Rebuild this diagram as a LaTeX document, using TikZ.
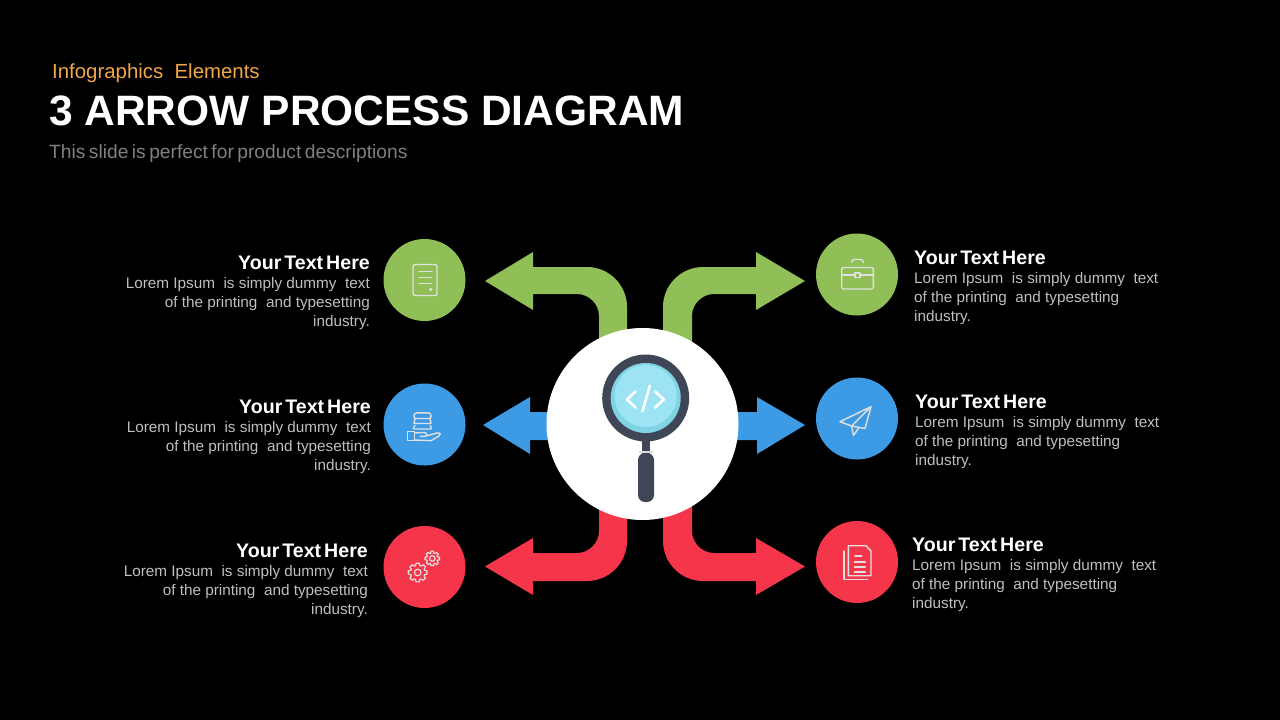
\documentclass[tikz,border=0pt]{standalone}
\usepackage{fontspec}
\setmainfont{Liberation Sans}
\definecolor{cgreen}{HTML}{8FBF56}
\definecolor{cblue}{HTML}{3D9BE6}
\definecolor{cred}{HTML}{F5364A}
\definecolor{corange}{HTML}{F0A64A}
\definecolor{cslate}{HTML}{3F4757}
\definecolor{clens}{HTML}{7FD3E3}
\definecolor{clenslight}{HTML}{9CE4F4}
\newcommand{\tightspace}[1]{\spaceskip #1\relax}
\tikzset{
  x=1pt,y=-1pt,
  badge/.style={circle,minimum size=82pt,inner sep=0pt,draw=none},
  headtext/.style={inner sep=0pt,text=white,font=\bfseries\fontsize{19.6}{24}\selectfont},
  bodyleft/.style={inner sep=0pt,text=black!25!white,align=right,anchor=north east,font=\fontsize{15.3}{19}\selectfont},
  bodyright/.style={inner sep=0pt,text=black!25!white,align=left,anchor=north west,font=\fontsize{15.3}{19}\selectfont},
  icon/.style={draw=white!88!black,line width=1.4pt,line join=round,line cap=round,fill=none},
}
\newcommand{\gear}[5]{% cx cy outer root hole
  \draw[icon,line width=1.2pt]
    \foreach \k [count=\i from 0] in {0,45,...,315}{
      {\ifnum\i=0 ({#1+#4*cos(\k-17)},{#2+#4*sin(\k-17)})\else -- ({#1+#4*cos(\k-17)},{#2+#4*sin(\k-17)})\fi}
      -- ({#1+#3*cos(\k-10)},{#2+#3*sin(\k-10)})
      -- ({#1+#3*cos(\k+10)},{#2+#3*sin(\k+10)})
      -- ({#1+#4*cos(\k+17)},{#2+#4*sin(\k+17)})
    } -- cycle;
  \draw[icon,line width=1.2pt] (#1,#2) circle[radius=#5];
}
\newcommand{\lorem}{Lorem Ipsum\ \ is simply dummy\ \ text\\of the printing\ \ and typesetting\\industry.}
\newcommand{\yourtext}{\tightspace{3pt}Your Text Here}
\begin{document}
\begin{tikzpicture}
\fill[black] (0,0) rectangle (1280,720);
\useasboundingbox (0,0) rectangle (1280,720);

% titles
\node[anchor=base west,inner sep=0pt,text=corange,font=\fontsize{20.4}{24}\selectfont] (kicker) at (52,78) {Infographics\ \ Elements};
\node[anchor=base west,inner sep=0pt,text=white,font=\bfseries\fontsize{42.5}{50}\selectfont] (title) at (49,125) {3 ARROW PROCESS DIAGRAM};
\node[anchor=base west,inner sep=0pt,text=black!50!white,font=\fontsize{19.2}{24}\selectfont] (subtitle) at (49,158) {\tightspace{3.5pt}This slide is perfect for product descriptions};

% arrows
\fill[cgreen] (485,281) -- (533,252) -- (533,267) -- (587,267) .. controls (609,267) and (627,285) .. (627,307) -- (627,360) -- (599,360) -- (599,316) .. controls (599,304) and (589,294) .. (577,294) -- (533,294) -- (533,310) -- cycle;
\fill[cgreen] (805,281) -- (756,252) -- (756,267) -- (703,267) .. controls (681,267) and (663,285) .. (663,307) -- (663,360) -- (692,360) -- (692,316) .. controls (692,304) and (702,294) .. (714,294) -- (756,294) -- (756,310) -- cycle;
\fill[cblue] (483,425) -- (530,397) -- (530,412) -- (600,412) -- (600,440) -- (530,440) -- (530,454) -- cycle;
\fill[cblue] (805,425) -- (757,397) -- (757,412) -- (690,412) -- (690,440) -- (757,440) -- (757,454) -- cycle;
\fill[cred] (485,566.5) -- (533,538) -- (533,553) -- (577,553) .. controls (589,553) and (599,543) .. (599,531) -- (599,490) -- (627,490) -- (627,541) .. controls (627,563) and (609,581) .. (587,581) -- (533,581) -- (533,595) -- cycle;
\fill[cred] (805,566.5) -- (756,538) -- (756,553) -- (714,553) .. controls (702,553) and (692,543) .. (692,531) -- (692,490) -- (663,490) -- (663,541) .. controls (663,563) and (681,581) .. (703,581) -- (756,581) -- (756,595) -- cycle;

% hub and magnifier
\node[circle,fill=white,minimum size=192pt,inner sep=0pt] (hub) at (642.5,424) {};
\fill[cslate] (641.7,440) rectangle (649.7,454);
\fill[black!15!white] (638.5,451) rectangle (653,453);
\fill[cslate,rounded corners=7pt] (638,453) -- (654,453) -- (654,502) -- (638,502) -- cycle;
\node[circle,fill=cslate,minimum size=87pt,inner sep=0pt] (lensrim) at (645.7,398) {};
\node[circle,fill=clens,minimum size=70pt,inner sep=0pt] (lens) at (645.7,398) {};
\node[circle,fill=clenslight,minimum size=62pt,inner sep=0pt] (lensin) at (645.7,396) {};
\draw[white,line width=2.6pt,line join=round] (636,391) -- (627,399.5) -- (636,408);
\draw[white,line width=2.6pt,line join=round] (654.5,391) -- (664,399.5) -- (654.5,408);
\draw[white,line width=2.6pt] (650,385) -- (642.3,412);

% badges
\node[badge,fill=cgreen] (b1) at (424.5,280) {};
\node[badge,fill=cblue] (b2) at (424.5,424.5) {};
\node[badge,fill=cred] (b3) at (424.5,567) {};
\node[badge,fill=cgreen] (b4) at (857,274.5) {};
\node[badge,fill=cblue] (b5) at (857,418.5) {};
\node[badge,fill=cred] (b6) at (857,562) {};

% icon: document
\draw[icon,rounded corners=2pt] (413,264.5) rectangle (437,295.5);
\draw[icon] (419,271.7) -- (432,271.7) (419,277.3) -- (432,277.3) (419,283.3) -- (432,283.3);
\fill[white!88!black] (430.7,289.5) circle[radius=1.8];

% icon: stack on hand
\draw[icon,rounded corners=2.5pt] (413.5,418.5) -- (414.5,412.8) -- (430.5,412.8) -- (431.5,418.5) -- cycle;
\draw[icon] (415,418.5) -- (414,423.5) -- (431,423.5) -- (430,418.5);
\draw[icon,rounded corners=1.5pt] (415,425.5) -- (412.3,429) -- (432.3,429) -- (430,425.5);
\draw[icon] (407.5,431.2) rectangle (414.3,440.7);
\draw[icon] (414.3,433) -- (424,432.5) .. controls (427,432.5) and (428,436) .. (425,436.3) -- (420,436.3) (426,436) -- (437,433) .. controls (441,432.5) and (441,435) .. (439,436) -- (431,440.7) -- (414.3,440);

% icon: gears
\gear{417.7}{572.5}{9.5}{7.2}{3.3}
\gear{432.3}{558.5}{7.4}{5.5}{2.8}

% icon: briefcase
\draw[icon,rounded corners=2pt] (841.7,267.5) rectangle (873.3,289);
\draw[icon] (851.7,262.5) .. controls (851.7,260) and (853,259.5) .. (855,259.5) -- (860,259.5) .. controls (862,259.5) and (863.3,260) .. (863.3,262.5);
\draw[icon] (841.7,275) -- (855,275) (860,275) -- (873.3,275);
\draw[icon] (855,273) rectangle (860,277.5);

% icon: paper plane
\draw[icon] (871,406.7) -- (840,421.7) -- (851.5,426) -- cycle;
\draw[icon] (871,406.7) -- (865,428.5) -- (851.5,426);
\draw[icon] (851.5,426) -- (853.5,435.5) -- (859,427.5);

% icon: documents
\draw[icon] (848.3,545.7) -- (866,545.7) -- (871,551) -- (871,575.7) -- (848.3,575.7) -- cycle;
\draw[icon] (844,551) -- (844,579.5) -- (867.5,579.5);
\draw[icon,line width=2pt] (855,556) -- (861.5,556) (854.5,561.7) -- (865,561.7) (854.5,566.7) -- (865,566.7) (854.5,571.5) -- (865,571.5);

% left texts
\node[headtext,anchor=base east] (h1) at (370,269) {\yourtext};
\node[bodyleft] (t1) at (370,277) {\lorem};
\node[headtext,anchor=base east] (h2) at (371,413) {\yourtext};
\node[bodyleft] (t2) at (371,421) {\lorem};
\node[headtext,anchor=base east] (h3) at (368,557) {\yourtext};
\node[bodyleft] (t3) at (368,565) {\lorem};
% right texts
\node[headtext,anchor=base west] (h4) at (914,264) {\yourtext};
\node[bodyright] (t4) at (914,272) {\lorem};
\node[headtext,anchor=base west] (h5) at (915,408) {\yourtext};
\node[bodyright] (t5) at (915,416) {\lorem};
\node[headtext,anchor=base west] (h6) at (912,551) {\yourtext};
\node[bodyright] (t6) at (912,559) {\lorem};
\end{tikzpicture}
\end{document}
